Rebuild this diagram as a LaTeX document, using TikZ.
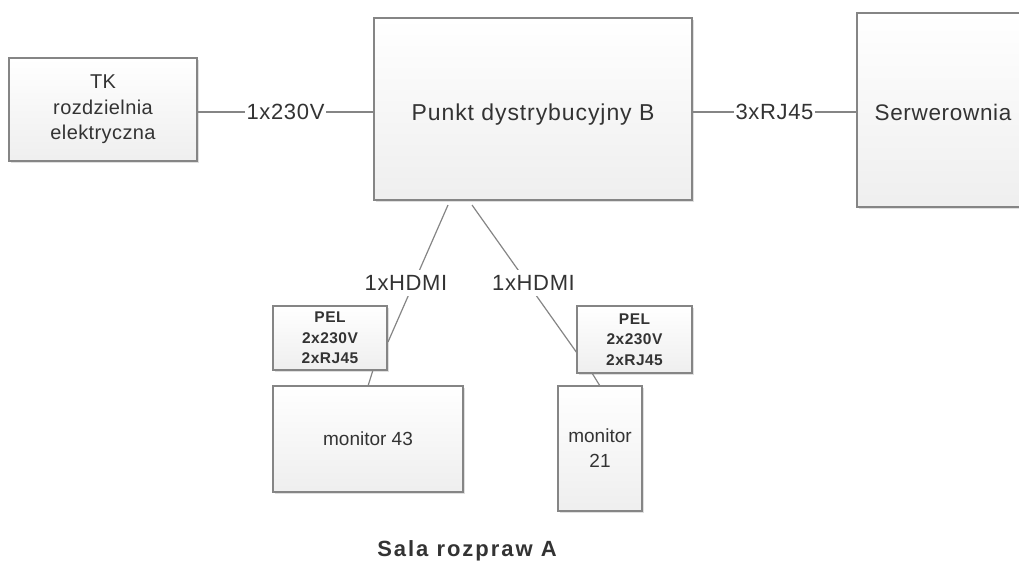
\documentclass[tikz,border=0pt]{standalone}
\usepackage{fontspec}
\setmainfont{Liberation Sans}
\usetikzlibrary{shadows,calc}
\definecolor{edge}{HTML}{858585}
\definecolor{txt}{HTML}{333333}
\tikzset{
  boxstyle/.style={draw=edge, line width=1.3pt, top color=white, bottom color=gray!13,
    drop shadow={shadow xshift=2pt, shadow yshift=-2pt, fill=gray, opacity=0.25},
    text=txt, inner sep=0pt, align=center},
  wire/.style={draw=edge, line width=1.2pt},
  lbl/.style={fill=white, text=txt, inner sep=1.5pt, font=\addfontfeature{LetterSpace=3}\fontsize{22}{25}\selectfont},
}
\begin{document}
\begin{tikzpicture}[x=1pt,y=-1pt]
\useasboundingbox (0,0) rectangle (1019,565);
% boxes
\node[boxstyle, minimum width=188pt, minimum height=103pt, font=\addfontfeature{LetterSpace=2}\fontsize{20}{25.5}\selectfont] (tk) at (103,109.5) {TK\\rozdzielnia\\elektryczna};
\node[boxstyle, minimum width=318pt, minimum height=182pt, font=\addfontfeature{LetterSpace=4}\fontsize{23}{26}\selectfont] (pd) at (533,109) {\raisebox{-11pt}[0pt][0pt]{Punkt dystrybucyjny B}};
\node[boxstyle, minimum width=172pt, minimum height=194pt, font=\addfontfeature{LetterSpace=3}\fontsize{22.5}{26}\selectfont] (srv) at (943,110) {\raisebox{-10pt}[0pt][0pt]{Serwerownia}};
\node[boxstyle, minimum width=114pt, minimum height=64pt, font=\bfseries\addfontfeature{LetterSpace=3}\fontsize{15.5}{20.5}\selectfont] (pel1) at (330,338) {PEL\\2x230V\\2xRJ45};
\node[boxstyle, minimum width=115pt, minimum height=67pt, font=\bfseries\addfontfeature{LetterSpace=3}\fontsize{15.5}{20.5}\selectfont] (pel2) at (634.5,339.5) {PEL\\2x230V\\2xRJ45};
\node[boxstyle, minimum width=190pt, minimum height=106pt, font=\fontsize{19}{25}\selectfont] (m43) at (368,439) {monitor 43};
\node[boxstyle, minimum width=84pt, minimum height=125pt, font=\fontsize{19}{25}\selectfont] (m21) at (600,448.5) {monitor\\21};
% connector endpoints
\coordinate (h1a) at (448,205);
\coordinate (h1b) at (388,342);
\coordinate (h2a) at (472,205);
\coordinate (h2b) at (577,353);
\coordinate (p1a) at (373,370);
\coordinate (p1b) at (368,386);
\coordinate (p2a) at (592,373);
\coordinate (p2b) at (600,386);
% connectors
\draw[wire] (tk.east |- 0,112) -- node[lbl] (l1) {1x230V} (pd.west |- 0,112);
\draw[wire] (pd.east |- 0,112) -- node[lbl] (l2) {3xRJ45} (srv.west |- 0,112);
\draw[wire] (h1a) -- (h1b);
\draw[wire] (h2a) -- (h2b);
\draw[wire] (p1a) -- (p1b);
\draw[wire] (p2a) -- (p2b);
\node[lbl, inner sep=5pt] (l3) at (406,283) {1xHDMI};
\node[lbl, inner sep=5pt] (l4) at (533.5,283) {1xHDMI};
% title
\node[text=txt, font=\bfseries\addfontfeature{LetterSpace=9}\fontsize{22}{25}\selectfont] (title) at (467,551) {Sala rozpraw A};
\end{tikzpicture}
\end{document}
